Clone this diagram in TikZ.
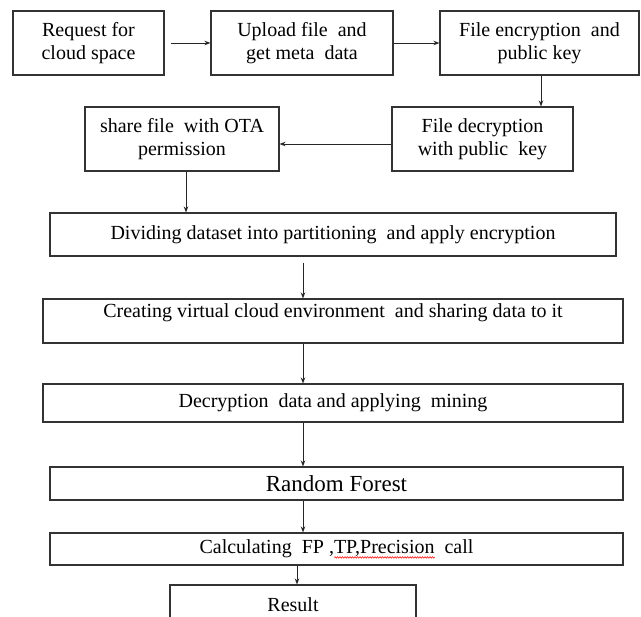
\documentclass[tikz,border=0pt]{standalone}
\usepackage{fontspec}
\setmainfont{Liberation Serif}
\usetikzlibrary{arrows.meta,decorations.pathmorphing}
\newsavebox{\wavebox}
\newcommand{\spellwave}[1]{\sbox{\wavebox}{#1}\rlap{\tikz[baseline=0pt,x=1pt,y=1pt]\draw[red, line width=0.5pt, decorate, decoration={snake,amplitude=0.8pt,segment length=2.5pt}] (0,-4) -- (\the\wd\wavebox,-4);}\usebox{\wavebox}}

\begin{document}
\begin{tikzpicture}[x=1pt, y=-1pt,
    stepbox/.style={draw=black!80, line width=1.1pt, minimum height=64pt, align=center, inner sep=2pt, font=\fontsize{20}{23}\selectfont},
    link/.style={-{Stealth[length=6pt,width=4.5pt]}, line width=0.9pt, draw=black!85}]
    \useasboundingbox (0,0) rectangle (641,617);
    \coordinate (spine) at (303,0); %% common x of the lower arrows
    \coordinate (tail) at (297,0);
    %% top row
    \node[stepbox, minimum width=151pt] (request) at (88.5,43) {Request for\\cloud space};
    \node[stepbox, minimum width=182pt] (upload) at (302,43) {Upload file\ \ and\\get meta\ \ data};
    \node[stepbox, minimum width=199pt] (encrypt) at (539.5,43) {File encryption\ \ and\\public key};
    %% second row
    \node[stepbox, minimum width=194pt] (share) at (182,139) {share file\ \ with OTA\\permission};
    \node[stepbox, minimum width=181pt] (decrypt) at (482.5,139) {File decryption\\with public\ \ key};
    %% wide boxes
    \node[stepbox, minimum width=566pt, minimum height=43pt] (divide) at (333,234.5) {Dividing dataset into partitioning\ \ and apply encryption};
    \node[stepbox, minimum width=580pt, minimum height=44pt, text depth=20pt] (virtual) at (333,321) {Creating virtual cloud environment\ \ and sharing data to it};
    \node[stepbox, minimum width=580pt, minimum height=38pt] (mining) at (333,403) {Decryption\ \ data and applying\ \ mining};
    \node[stepbox, minimum width=573pt, minimum height=33pt, font=\fontsize{23}{26}\selectfont] (forest) at (336.5,483.5) {Random Forest};
    \node[stepbox, minimum width=573pt, minimum height=32pt] (metrics) at (336.5,549) {Calculating\ \ FP ,\spellwave{TP,Precision}\ \ call};
    \node[stepbox, minimum width=246pt, minimum height=40pt] (result) at (293,605) {Result};

    \draw[link, shorten <=6pt] (request) -- (upload);
    \draw[link] (upload) -- (encrypt);
    \draw[link] ([xshift=1.5pt]encrypt.south) -- ([xshift=1.5pt]encrypt.south |- decrypt.north);
    \draw[link] ([yshift=-5pt]decrypt.west) -- ([yshift=-5pt]decrypt.west -| share.east);
    \draw[link] ([xshift=4pt]share.south) -- ([xshift=4pt]share.south |- divide.north);
    \draw[link, shorten <=6pt] (divide.south -| spine) -- (virtual.north -| spine);
    \draw[link] (virtual.south -| spine) -- (mining.north -| spine);
    \draw[link] (mining.south -| spine) -- (forest.north -| spine);
    \draw[link] (forest.south -| spine) -- (metrics.north -| spine);
    \draw[link] (metrics.south -| tail) -- (result.north -| tail);
\end{tikzpicture}
\end{document}
